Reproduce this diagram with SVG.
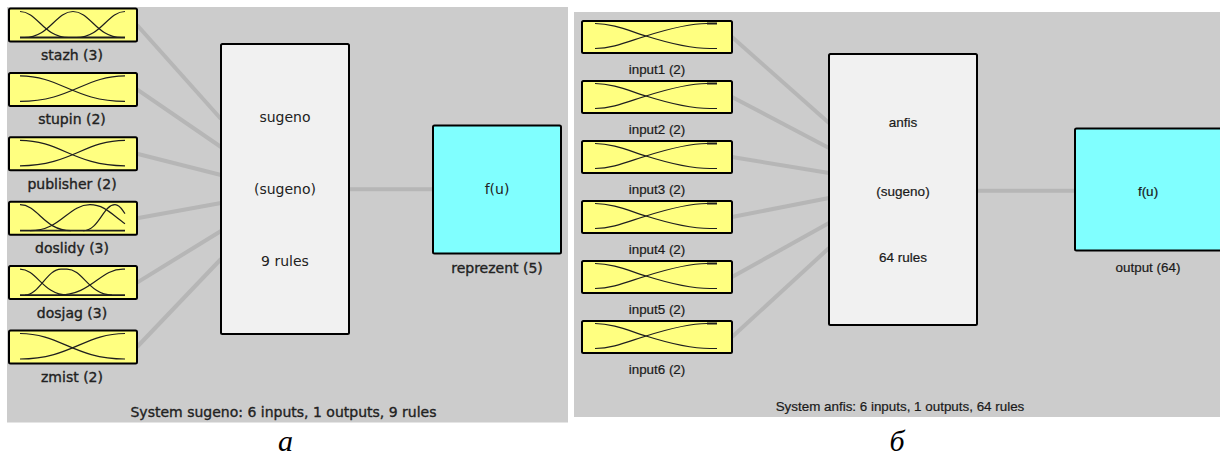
<svg xmlns="http://www.w3.org/2000/svg" xmlns:xlink="http://www.w3.org/1999/xlink" width="1220" height="455" viewBox="0 0 1220 455">
<style>
.panel{fill:#cccccc}
.in{fill:#ffff80;stroke:#000;stroke-width:2}
.mid{fill:#f1f1f1;stroke:#000;stroke-width:2}
.out{fill:#80ffff;stroke:#000;stroke-width:2}
.conn{stroke:#b6b6b6;stroke-width:4;fill:none}
.mf{fill:none;stroke:#1e1e1e;stroke-width:1.2}
.tL{font-family:"DejaVu Sans","Liberation Sans",sans-serif;font-size:14px;fill:#222;text-anchor:middle}
.b{stroke:#222;stroke-width:0.35}
.tR{font-family:"Liberation Sans",Arial,sans-serif;font-size:13.4px;fill:#1a1a1a;stroke:#1a1a1a;stroke-width:0.2;text-anchor:middle}
.tM{font-size:13.5px}
.cap{font-family:"Liberation Serif","Times New Roman",serif;font-style:italic;font-size:30px;fill:#000;text-anchor:middle}
</style>
<defs>
<g id="mf3a" class="mf">
<path d="M11,3 C28.5,3 34.4,29 59.75,29"/>
<path d="M15.25,29 C40.6,29 46.5,3 64,3 C81.5,3 87.4,29 112.75,29"/>
<path d="M67.25,29 C92.6,29 98.5,3 116,3"/>
<path d="M11,29 H116" stroke-width="1.8"/>
</g>
<g id="mf3b" class="mf">
<path d="M11,3 C29,3 35,29 62,29"/>
<path d="M21,29 C52,29 59,3 81,3 C96,3 104,14 116,22"/>
<path d="M74,29 C90,29 94,3 106,3 C111,3 113,8 116,12"/>
<path d="M11,29 H116" stroke-width="1.8"/>
</g>
<g id="mf3c" class="mf">
<path d="M11,3 C28,3 34,29 58.5,29"/>
<path d="M16,29 C30,29 38,3 52,3 L58,3 C74,3 80,29 103,29"/>
<path d="M49,29 C82.8,29 90.6,3 114,3 L116,3"/>
<path d="M11,29 H116" stroke-width="1.8"/>
</g>
<g id="mf2L" class="mf">
<path d="M11,3 C51.5,3 65,28.5 116,28.5"/>
<path d="M11,28.5 C62,28.5 75.5,3 116,3"/>
</g>
<g id="mf2R" class="mf">
<path d="M13,2.5 C30,2.5 45,9 64,15 S110,27.5 128,27.5 L135,27.5"/>
<path d="M13,27.5 C30,27.5 45,21 64,15 S105,2.5 125,2.5 L135,2.5"/>
<path d="M125,2.5 H135" stroke-width="2"/>
</g>
</defs>

<rect class="panel" x="7" y="7" width="561" height="415.5"/>
<rect class="panel" x="574" y="12" width="646" height="405"/>

<g id="connectors">
<path class="conn" d="M137,25 L221,119"/>
<path class="conn" d="M137,89.4 L221,147"/>
<path class="conn" d="M137,153.8 L221,175"/>
<path class="conn" d="M137,218.2 L221,203"/>
<path class="conn" d="M137,282.6 L221,231"/>
<path class="conn" d="M137,347 L221,259"/>
<path class="conn" d="M349,189.3 L433,189.3"/>
<path class="conn" d="M732,37 L829,123"/>
<path class="conn" d="M732,97 L829,148"/>
<path class="conn" d="M732,157 L829,173"/>
<path class="conn" d="M732,217 L829,198"/>
<path class="conn" d="M732,277 L829,223"/>
<path class="conn" d="M732,337 L829,248"/>
<path class="conn" d="M977,190.7 L1075,190.7"/>
</g>

<g id="stazh">
<rect class="in" x="9" y="8.5" width="128" height="33" rx="1.5"/>
<use xlink:href="#mf3a" href="#mf3a" transform="translate(9,8.5)"/>
<text class="tL b" x="72" y="60">stazh (3)</text>
</g>
<g id="stupin">
<rect class="in" x="9" y="72.9" width="128" height="33" rx="1.5"/>
<use xlink:href="#mf2L" href="#mf2L" transform="translate(9,72.9)"/>
<text class="tL b" x="72" y="124.4">stupin (2)</text>
</g>
<g id="publisher">
<rect class="in" x="9" y="137.3" width="128" height="33" rx="1.5"/>
<use xlink:href="#mf2L" href="#mf2L" transform="translate(9,137.3)"/>
<text class="tL b" x="72" y="188.8">publisher (2)</text>
</g>
<g id="doslidy">
<rect class="in" x="9" y="201.7" width="128" height="33" rx="1.5"/>
<use xlink:href="#mf3b" href="#mf3b" transform="translate(9,201.7)"/>
<text class="tL b" x="72" y="253.2">doslidy (3)</text>
</g>
<g id="dosjag">
<rect class="in" x="9" y="266.1" width="128" height="33" rx="1.5"/>
<use xlink:href="#mf3c" href="#mf3c" transform="translate(9,266.1)"/>
<text class="tL b" x="72" y="317.6">dosjag (3)</text>
</g>
<g id="zmist">
<rect class="in" x="9" y="330.5" width="128" height="33" rx="1.5"/>
<use xlink:href="#mf2L" href="#mf2L" transform="translate(9,330.5)"/>
<text class="tL b" x="72" y="382">zmist (2)</text>
</g>

<g id="sugeno">
<rect class="mid" x="221" y="44" width="128" height="290" rx="1.5"/>
<text class="tL" x="285" y="121.5">sugeno</text>
<text class="tL" x="285" y="194">(sugeno)</text>
<text class="tL" x="285" y="265.5">9 rules</text>
</g>
<g id="reprezent">
<rect class="out" x="433" y="125.5" width="128" height="128" rx="1.5"/>
<text class="tL" x="497" y="194">f(u)</text>
<text class="tL b" x="497" y="273">reprezent (5)</text>
</g>
<text class="tL b" x="283.5" y="417">System sugeno: 6 inputs, 1 outputs, 9 rules</text>

<g id="input1">
<rect class="in" x="582" y="21" width="150" height="32" rx="1.5"/>
<use xlink:href="#mf2R" href="#mf2R" transform="translate(582,21)"/>
<text class="tR" x="657" y="73.5">input1 (2)</text>
</g>
<g id="input2">
<rect class="in" x="582" y="81" width="150" height="32" rx="1.5"/>
<use xlink:href="#mf2R" href="#mf2R" transform="translate(582,81)"/>
<text class="tR" x="657" y="133.5">input2 (2)</text>
</g>
<g id="input3">
<rect class="in" x="582" y="141" width="150" height="32" rx="1.5"/>
<use xlink:href="#mf2R" href="#mf2R" transform="translate(582,141)"/>
<text class="tR" x="657" y="193.5">input3 (2)</text>
</g>
<g id="input4">
<rect class="in" x="582" y="201" width="150" height="32" rx="1.5"/>
<use xlink:href="#mf2R" href="#mf2R" transform="translate(582,201)"/>
<text class="tR" x="657" y="253.5">input4 (2)</text>
</g>
<g id="input5">
<rect class="in" x="582" y="261" width="150" height="32" rx="1.5"/>
<use xlink:href="#mf2R" href="#mf2R" transform="translate(582,261)"/>
<text class="tR" x="657" y="313.5">input5 (2)</text>
</g>
<g id="input6">
<rect class="in" x="582" y="321" width="150" height="32" rx="1.5"/>
<use xlink:href="#mf2R" href="#mf2R" transform="translate(582,321)"/>
<text class="tR" x="657" y="374">input6 (2)</text>
</g>

<g id="anfis">
<rect class="mid" x="829" y="54" width="148" height="271" rx="1.5"/>
<text class="tR tM" x="903" y="126.5">anfis</text>
<text class="tR tM" x="903" y="195.5">(sugeno)</text>
<text class="tR tM" x="903" y="262">64 rules</text>
</g>
<g id="output">
<rect class="out" x="1075" y="128.5" width="148" height="122" rx="1.5"/>
<text class="tR tM" x="1148" y="195.5">f(u)</text>
<text class="tR" x="1148" y="272">output (64)</text>
</g>
<text class="tR" x="900" y="410.5">System anfis: 6 inputs, 1 outputs, 64 rules</text>

<text class="cap" x="285.5" y="451">а</text>
<text class="cap" x="897" y="451">б</text>
</svg>
